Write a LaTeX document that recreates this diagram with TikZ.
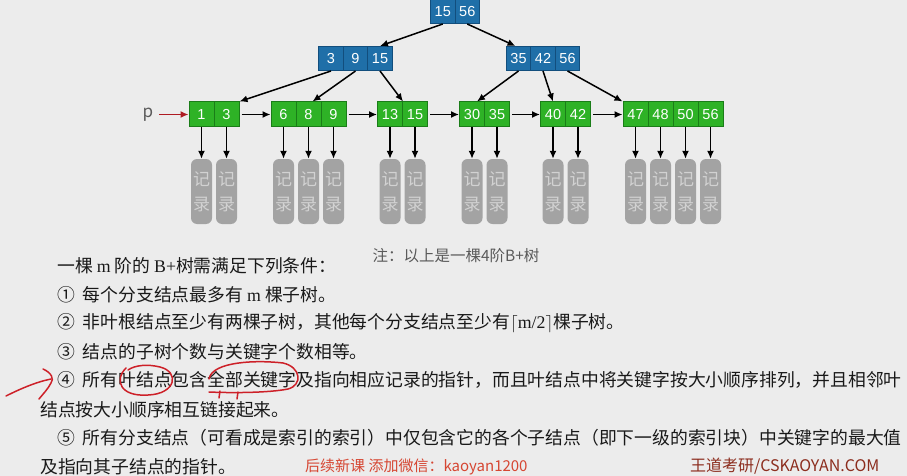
\documentclass[tikz,border=0pt]{standalone}
\usepackage{fontspec}
\setmainfont{Noto Sans CJK SC}
\newfontfamily\tms{Liberation Serif}
\newfontfamily\hlv{Liberation Sans}
\usetikzlibrary{arrows.meta}
\definecolor{bgray}{RGB}{236,236,236}
\definecolor{blfill}{RGB}{31,111,168}
\definecolor{bldraw}{RGB}{18,78,125}
\definecolor{grfill}{RGB}{46,178,38}
\definecolor{grdraw}{RGB}{26,125,24}
\definecolor{recfill}{RGB}{163,163,163}
\definecolor{rectext}{RGB}{210,210,210}
\definecolor{bodytext}{RGB}{25,25,25}
\definecolor{notetext}{RGB}{90,90,90}
\definecolor{inkred}{RGB}{205,32,40}
\definecolor{wmred}{RGB}{214,70,50}
\definecolor{wmdark}{RGB}{140,45,30}

\begin{document}
\begin{tikzpicture}[x=1pt,y=-1pt,
  inner/.style={draw=bldraw,fill=blfill,line width=1pt,minimum width=24.5pt,minimum height=24pt,inner sep=0pt,text=white,font=\hlv\fontsize{14.5}{14}\selectfont},
  leaf/.style={inner,draw=grdraw,fill=grfill,minimum width=25pt,minimum height=25pt},
  rec/.style={fill=recfill,rounded corners=6pt,minimum width=21pt,minimum height=65pt,inner sep=0pt,text=rectext,align=center,font=\fontsize{17}{25}\selectfont},
  ptr/.style={line width=1.5pt,-{Latex[length=8pt,width=7pt]}},
  txt/.style={anchor=west,inner sep=0pt,text=bodytext,font=\fontsize{17.8}{20}\selectfont},
  redink/.style={draw=inkred,line width=1.5pt,line cap=round}]
\useasboundingbox (0,0) rectangle (907,476);
\fill [bgray] (0,0) rectangle (907,476);
% index nodes
\node [inner] (r1) at (442.75,11.5) {15};
\node [inner] (r2) at (467.25,11.5) {56};
\node [inner] (a1) at (331,58.5) {3};
\node [inner] (a2) at (355.5,58.5) {9};
\node [inner] (a3) at (380,58.5) {15};
\node [inner] (b1) at (518.5,58.5) {35};
\node [inner] (b2) at (543,58.5) {42};
\node [inner] (b3) at (567.5,58.5) {56};
% leaves
\node [leaf] (l11) at (201.5,114.5) {1};
\node [leaf] (l12) at (226.5,114.5) {3};
\node [leaf] (l21) at (283.5,114.5) {6};
\node [leaf] (l22) at (308.5,114.5) {8};
\node [leaf] (l23) at (333.5,114.5) {9};
\node [leaf] (l31) at (390,114.5) {13};
\node [leaf] (l32) at (415,114.5) {15};
\node [leaf] (l41) at (472,114.5) {30};
\node [leaf] (l42) at (497,114.5) {35};
\node [leaf] (l51) at (553,114.5) {40};
\node [leaf] (l52) at (578,114.5) {42};
\node [leaf] (l61) at (635.5,114.5) {47};
\node [leaf] (l62) at (660.5,114.5) {48};
\node [leaf] (l63) at (685.5,114.5) {50};
\node [leaf] (l64) at (710.5,114.5) {56};
% records
\node [rec] (k11) at (201.5,191.5) {记\\录};
\node [rec] (k12) at (226.5,191.5) {记\\录};
\node [rec] (k21) at (283.5,191.5) {记\\录};
\node [rec] (k22) at (308.5,191.5) {记\\录};
\node [rec] (k23) at (333.5,191.5) {记\\录};
\node [rec] (k31) at (390,191.5) {记\\录};
\node [rec] (k32) at (415,191.5) {记\\录};
\node [rec] (k41) at (472,191.5) {记\\录};
\node [rec] (k42) at (497,191.5) {记\\录};
\node [rec] (k51) at (553,191.5) {记\\录};
\node [rec] (k52) at (578,191.5) {记\\录};
\node [rec] (k61) at (635.5,191.5) {记\\录};
\node [rec] (k62) at (660.5,191.5) {记\\录};
\node [rec] (k63) at (685.5,191.5) {记\\录};
\node [rec] (k64) at (710.5,191.5) {记\\录};
\node [text=notetext,font=\fontsize{17}{20}\selectfont,inner sep=0pt] (p) at (148,114.5) {p};
% tree pointers
\draw [ptr] (r1.south) -- (a3.north);
\draw [ptr] (r2.south) -- ([xshift=-3pt]b1.north);
\draw [ptr] (a1.south) -- (l12.north east);
\draw [ptr] (a2.south) -- ([xshift=4pt]l22.north);
\draw [ptr] (a3.south) -- (l31.north east);
\draw [ptr] (b1.south) -- ([xshift=5pt]l41.north);
\draw [ptr] (b2.south) -- (l51.north);
\draw [ptr] (b3.south) -- (l61.north west);
% leaf chain
\draw [ptr,shorten <=2pt] (l12.east) -- (l21.west);
\draw [ptr,shorten <=2pt] (l23.east) -- (l31.west);
\draw [ptr,shorten <=2pt] (l32.east) -- (l41.west);
\draw [ptr,shorten <=2pt] (l42.east) -- (l51.west);
\draw [ptr,shorten <=2pt] (l52.east) -- (l61.west);
\draw [ptr,draw=inkred!85!black,shorten <=6pt] (p.east) -- (l11.west);
% record pointers
\draw [ptr] (l11.south) -- (k11.north);
\draw [ptr] (l12.south) -- (k12.north);
\draw [ptr] (l21.south) -- (k21.north);
\draw [ptr] (l22.south) -- (k22.north);
\draw [ptr] (l23.south) -- (k23.north);
\draw [ptr] (l31.south) -- (k31.north);
\draw [ptr] (l32.south) -- (k32.north);
\draw [ptr] (l41.south) -- (k41.north);
\draw [ptr] (l42.south) -- (k42.north);
\draw [ptr] (l51.south) -- (k51.north);
\draw [ptr] (l52.south) -- (k52.north);
\draw [ptr] (l61.south) -- (k61.north);
\draw [ptr] (l62.south) -- (k62.north);
\draw [ptr] (l63.south) -- (k63.north);
\draw [ptr] (l64.south) -- (k64.north);
% caption and conditions
\node [text=notetext,font=\fontsize{15.5}{18}\selectfont,inner sep=0pt] (note) at (456,256) {注：以上是一棵4阶B+树};
\node [txt] (c0) at (57,266) {一棵 {\tms m} 阶的 {\tms B+}树需满足下列条件：};
\node [txt] (c1) at (57,295) {①\hspace{.45em}每个分支结点最多有 {\tms m} 棵子树。};
\node [txt] (c2) at (57,323) {②\hspace{.45em}非叶根结点至少有两棵子树，其他每个分支结点至少有{\tms$\lceil$m/2$\rceil$}棵子树。};
\node [txt] (c3) at (57,352) {③\hspace{.45em}结点的子树个数与关键字个数相等。};
\node [txt] (c4) at (57,380) {④\hspace{.45em}所有叶结点包含全部关键字及指向相应记录的指针，而且叶结点中将关键字按大小顺序排列，并且相邻叶};
\node [txt] (c4b) at (40,410) {结点按大小顺序相互链接起来。};
\node [txt] (c5) at (57,438) {⑤\hspace{.45em}所有分支结点（可看成是索引的索引）中仅包含它的各个子结点（即下一级的索引块）中关键字的最大值};
\node [txt] (c5b) at (40,467) {及指向其子结点的指针。};
% watermarks
\node [anchor=west,inner sep=0pt,text=wmred,font=\fontsize{15}{18}\selectfont] (wm1) at (305,467) {后续新课 添加微信：kaoyan1200};
\node [anchor=west,inner sep=0pt,text=wmdark,font=\fontsize{16}{20}\selectfont] (wm2) at (690,466) {王道考研/CSKAOYAN.COM};
% hand marks
\draw [redink] (126,368) .. controls (114,380) and (120,397) .. (148,395) .. controls (176,394) and (180,372) .. (160,367) .. controls (148,364) and (135,365) .. (128,370);
\draw [redink] (209,379) .. controls (212,361) and (258,360) .. (283,363) .. controls (301,367) and (303,385) .. (288,389) .. controls (268,393) and (230,393) .. (209,392);
\draw [redink] (220,391) -- (219,398);
\draw [redink] (238,392) -- (237,399);
\draw [redink] (6,396) .. controls (20,389) and (36,382) .. (51,379);
\draw [redink] (43,369) .. controls (52,373) and (54,379) .. (51,383) .. controls (48,389) and (43,394) .. (39,399);
\end{tikzpicture}
\end{document}
